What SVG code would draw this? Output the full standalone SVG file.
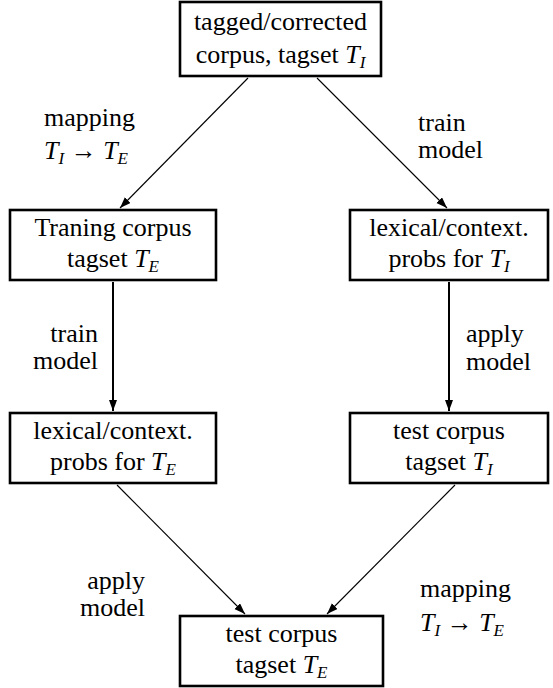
<svg xmlns="http://www.w3.org/2000/svg" width="553" height="688" viewBox="0 0 553 688">
<defs>
<marker id="ah" markerUnits="userSpaceOnUse" markerWidth="12" markerHeight="10" refX="11" refY="4" orient="auto">
<path d="M0,0 L11,4 L0,8 Z" fill="#000"/>
</marker>
<style>
.box{fill:#fff;stroke:#000;stroke-width:2.6}
.t{font-size:26px;fill:#000}
.m{text-anchor:middle}
.e{text-anchor:end}
.i{font-style:italic}
.s{font-style:italic;font-size:17px}
.c{stroke:#000;fill:none;marker-end:url(#ah)}
.thin{stroke-width:1.1}
.thick{stroke-width:2}
</style>
</defs>
<rect width="553" height="688" fill="#fff"/>
<g id="connectors">
<line class="c thin" x1="248" y1="78" x2="120" y2="208"/>
<line class="c thin" x1="317" y1="78" x2="447" y2="208"/>
<line class="c thick" x1="113" y1="282" x2="113" y2="411"/>
<line class="c thick" x1="449" y1="282" x2="449" y2="411"/>
<line class="c thin" x1="117" y1="485" x2="245" y2="614"/>
<line class="c thin" x1="455" y1="485" x2="327" y2="614"/>
</g>
<g font-family="Liberation Serif, DejaVu Serif, serif">
<g id="labels">
<text class="t" x="44" y="126">mapping</text>
<text class="t" x="44" y="159"><tspan class="i">T</tspan><tspan class="s" dy="5">I</tspan><tspan dy="-5"> → </tspan><tspan class="i">T</tspan><tspan class="s" dy="5">E</tspan></text>
<text class="t" x="418" y="131">train</text>
<text class="t" x="418" y="158">model</text>
<text class="t e" x="98" y="342">train</text>
<text class="t e" x="98" y="369">model</text>
<text class="t" x="466" y="342">apply</text>
<text class="t" x="466" y="370">model</text>
<text class="t e" x="145" y="589">apply</text>
<text class="t e" x="145" y="616">model</text>
<text class="t" x="420" y="597">mapping</text>
<text class="t" x="420" y="631"><tspan class="i">T</tspan><tspan class="s" dy="5">I</tspan><tspan dy="-5"> → </tspan><tspan class="i">T</tspan><tspan class="s" dy="5">E</tspan></text>
</g>
<g id="n-top">
<rect class="box" x="180" y="2" width="201" height="74"/>
<text class="t m" x="280.5" y="30">tagged/corrected</text>
<text class="t m" x="280.5" y="63">corpus, tagset <tspan class="i">T</tspan><tspan class="s" dy="5">I</tspan></text>
</g>
<g id="n-train">
<rect class="box" x="10" y="210" width="206" height="70"/>
<text class="t m" x="113" y="236">Traning corpus</text>
<text class="t m" x="113" y="267">tagset <tspan class="i">T</tspan><tspan class="s" dy="5">E</tspan></text>
</g>
<g id="n-lexI">
<rect class="box" x="350" y="210" width="198" height="70"/>
<text class="t m" x="449" y="236">lexical/context.</text>
<text class="t m" x="449" y="267">probs for <tspan class="i">T</tspan><tspan class="s" dy="5">I</tspan></text>
</g>
<g id="n-lexE">
<rect class="box" x="10" y="413" width="206" height="70"/>
<text class="t m" x="113" y="439">lexical/context.</text>
<text class="t m" x="113" y="470">probs for <tspan class="i">T</tspan><tspan class="s" dy="5">E</tspan></text>
</g>
<g id="n-testI">
<rect class="box" x="350" y="413" width="198" height="70"/>
<text class="t m" x="449" y="439">test corpus</text>
<text class="t m" x="449" y="470">tagset <tspan class="i">T</tspan><tspan class="s" dy="5">I</tspan></text>
</g>
<g id="n-bottom">
<rect class="box" x="180" y="616" width="203" height="70"/>
<text class="t m" x="281.5" y="642">test corpus</text>
<text class="t m" x="281.5" y="673">tagset <tspan class="i">T</tspan><tspan class="s" dy="5">E</tspan></text>
</g>
</g>
</svg>
